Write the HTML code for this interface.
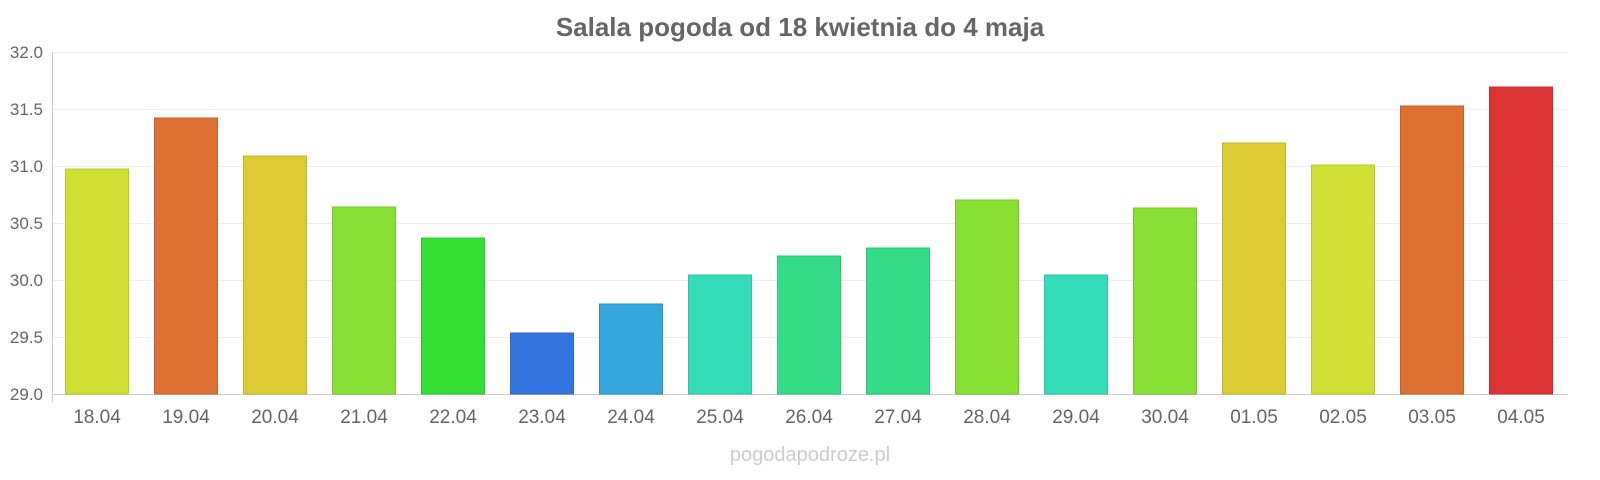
<!DOCTYPE html>
<html><head><meta charset="utf-8"><style>
html,body{margin:0;padding:0;background:#fff;width:1600px;height:480px;overflow:hidden}
svg text{font-family:"Liberation Sans",sans-serif}
</style></head><body>
<svg width="1600" height="480" xmlns="http://www.w3.org/2000/svg">
<text x="800" y="36" text-anchor="middle" font-size="26" font-weight="bold" fill="#666">Salala pogoda od 18 kwietnia do 4 maja</text>
<g stroke="#eee" stroke-width="1">
<line x1="52" x2="1568" y1="52.5" y2="52.5"/><line x1="52" x2="1568" y1="109.5" y2="109.5"/>
<line x1="52" x2="1568" y1="166.5" y2="166.5"/><line x1="52" x2="1568" y1="223.5" y2="223.5"/>
<line x1="52" x2="1568" y1="280.5" y2="280.5"/><line x1="52" x2="1568" y1="337.5" y2="337.5"/>
<line x1="52" x2="1568" y1="394.5" y2="394.5"/>
</g>
<line x1="52.5" x2="52.5" y1="52" y2="402" stroke="#ccc"/>
<line x1="52" x2="1568" y1="394.5" y2="394.5" stroke="#ccc"/>
<g font-size="17" fill="#666" text-anchor="end">
<text x="43" y="58">32.0</text><text x="43" y="115">31.5</text><text x="43" y="172">31.0</text>
<text x="43" y="229">30.5</text><text x="43" y="286">30.0</text><text x="43" y="343">29.5</text><text x="43" y="400">29.0</text>
</g>
<g stroke-width="1">
<rect x="65.5" y="169" width="63" height="225" fill="#cfdf34" stroke="#b8c82c"/>
<rect x="154.5" y="118" width="63" height="276" fill="#df7034" stroke="#c85e28"/>
<rect x="243.5" y="156" width="63" height="238" fill="#dccb34" stroke="#c5b42c"/>
<rect x="332.5" y="207" width="63" height="187" fill="#88df34" stroke="#74c82c"/>
<rect x="421.5" y="238" width="63" height="156" fill="#34df34" stroke="#2cc82c"/>
<rect x="510.5" y="333" width="63" height="61" fill="#3476df" stroke="#2c64c8"/>
<rect x="599.5" y="304" width="63" height="90" fill="#34a8dc" stroke="#2c92c5"/>
<rect x="688.5" y="275" width="63" height="119" fill="#34dcbb" stroke="#2cc5a6"/>
<rect x="777.5" y="256" width="63" height="138" fill="#34dc88" stroke="#2cc576"/>
<rect x="866.5" y="248" width="63" height="146" fill="#34dc88" stroke="#2cc576"/>
<rect x="955.5" y="200" width="63" height="194" fill="#88df34" stroke="#74c82c"/>
<rect x="1044.5" y="275" width="63" height="119" fill="#34dcbb" stroke="#2cc5a6"/>
<rect x="1133.5" y="208" width="63" height="186" fill="#88df34" stroke="#74c82c"/>
<rect x="1222.5" y="143" width="63" height="251" fill="#dccb34" stroke="#c5b42c"/>
<rect x="1311.5" y="165" width="63" height="229" fill="#cfdf34" stroke="#b8c82c"/>
<rect x="1400.5" y="106" width="63" height="288" fill="#df7034" stroke="#c85e28"/>
<rect x="1489.5" y="87" width="63" height="307" fill="#dc3434" stroke="#c52c2c"/>
</g>
<g font-size="19" fill="#666" text-anchor="middle">
<text x="97" y="423">18.04</text><text x="186" y="423">19.04</text><text x="275" y="423">20.04</text>
<text x="364" y="423">21.04</text><text x="453" y="423">22.04</text><text x="542" y="423">23.04</text>
<text x="631" y="423">24.04</text><text x="720" y="423">25.04</text><text x="809" y="423">26.04</text>
<text x="898" y="423">27.04</text><text x="987" y="423">28.04</text><text x="1076" y="423">29.04</text>
<text x="1165" y="423">30.04</text><text x="1254" y="423">01.05</text><text x="1343" y="423">02.05</text>
<text x="1432" y="423">03.05</text><text x="1521" y="423">04.05</text>
</g>
<text x="810" y="461" text-anchor="middle" font-size="20" fill="#ccc">pogodapodroze.pl</text>
</svg>
</body></html>
